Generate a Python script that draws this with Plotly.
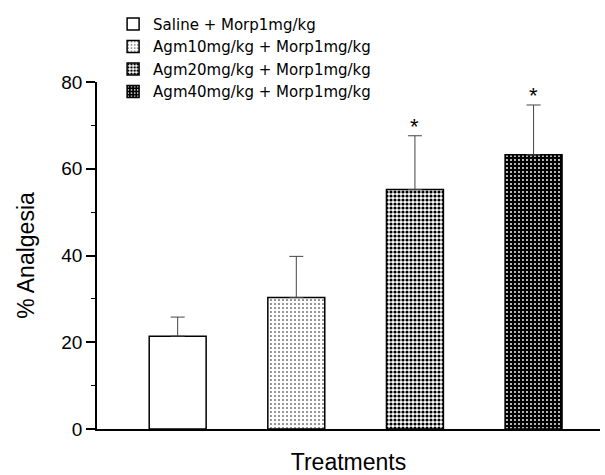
import plotly.graph_objects as go

categories = ["Saline + Morp1mg/kg", "Agm10mg/kg + Morp1mg/kg",
              "Agm20mg/kg + Morp1mg/kg", "Agm40mg/kg + Morp1mg/kg"]
means = [21.4, 30.3, 55.2, 63.2]
sems = [4.4, 9.5, 12.4, 11.5]
significant = [False, False, True, True]

patterns = [
    dict(shape="", bgcolor="white", fgcolor="white"),
    dict(shape=".", bgcolor="white", fgcolor="black", size=4, solidity=0.12, fillmode="replace"),
    dict(shape=".", bgcolor="white", fgcolor="black", size=4, solidity=0.5, fillmode="replace"),
    dict(shape=".", bgcolor="black", fgcolor="white", size=4, solidity=0.18, fillmode="replace"),
]

fig = go.Figure()
for i, (cat, m, s) in enumerate(zip(categories, means, sems)):
    fig.add_trace(go.Bar(
        x=[cat], y=[m], name=cat, width=0.48,
        marker=dict(color="white", line=dict(color="black", width=1.5),
                    pattern=patterns[i]),
        error_y=dict(type="data", array=[s], arrayminus=[0], symmetric=False,
                     color="#444", thickness=1, width=7),
    ))

for cat, m, s, sig in zip(categories, means, sems, significant):
    if sig:
        fig.add_annotation(x=cat, y=m + s, text="*", showarrow=False,
                           yanchor="bottom", yshift=-5,
                           font=dict(size=22, color="black", family="Liberation Sans"))

fig.update_layout(
    width=605, height=475,
    margin=dict(l=97, r=5, t=82, b=46),
    paper_bgcolor="white", plot_bgcolor="white",
    barmode="overlay",
    showlegend=True,
    legend=dict(x=0.032, y=1.214, xanchor="left", yanchor="top",
                font=dict(size=15, family="DejaVu Sans", color="black"),
                bgcolor="rgba(0,0,0,0)", itemwidth=30),
    font=dict(family="Liberation Sans", color="black"),
)
fig.update_xaxes(range=[-0.68, 3.56], showticklabels=False, ticks="",
                 showline=True, linecolor="black", linewidth=1.5,
                 showgrid=False, zeroline=False, automargin=False,
                 title=dict(text="Treatments", font=dict(size=23), standoff=25))
fig.update_yaxes(range=[0, 80], tickvals=[0, 20, 40, 60, 80],
                 ticks="outside", ticklen=9, tickwidth=1.5, tickcolor="black",
                 minor=dict(tickvals=[10, 30, 50, 70], ticks="outside", ticklen=4,
                            tickwidth=1, tickcolor="black"),
                 showline=True, linecolor="black", linewidth=1.5,
                 showgrid=False, zeroline=False, automargin=False,
                 tickfont=dict(size=19),
                 title=dict(text="% Analgesia", font=dict(size=23), standoff=20))

fig.write_html("out.html", config={"displayModeBar": False},
               post_script="document.body.style.margin='0';")
